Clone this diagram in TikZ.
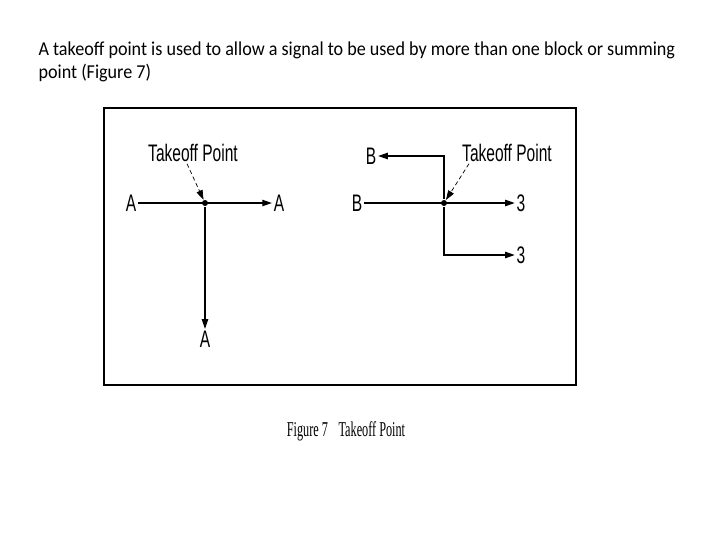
\documentclass[tikz,border=0pt]{standalone}
\usepackage{fontspec}
\setmainfont[FakeStretch=0.92]{Carlito}
\newfontfamily\labelfont[FakeStretch=0.65]{Liberation Sans}
\newfontfamily\capfont[FakeStretch=0.58]{Liberation Serif}
\usetikzlibrary{arrows.meta}

\begin{document}
\begin{tikzpicture}[x=0.025cm,y=-0.025cm,line width=0.8pt,>={Triangle[length=2.4mm,width=1.6mm]},
  lbl/.style={font=\labelfont\fontsize{17}{17}\selectfont,inner sep=1pt},
  tpoint/.style={circle,fill,inner sep=1.5pt}]
  \useasboundingbox (0,0) rectangle (720,540);
  % texto de arriba
  \node[anchor=north west,align=left,inner sep=0,font=\fontsize{14}{16.3}\selectfont] (intro) at (38,41)
    {A takeoff point is used to allow a signal to be used by more than one block or summing\\point (Figure 7)};
  % marco
  \draw (104,385) -- (104,108) -- (576,108) -- (576,385);
  \draw[line width=1.6pt] (103,385) -- (577,385);
  % primer punto de bifurcacion
  \node[tpoint] (tpa) at (205,203) {};
  \node[lbl] (ain) at (131,203) {A};
  \node[lbl] (aright) at (279,203) {A};
  \node[lbl] (adown) at (205,339) {A};
  \node[lbl] (tla) at (193,153) {Takeoff Point};
  \draw[->] (ain) -- (aright);
  \draw[->] (tpa) -- (adown);
  \draw[->,densely dashed,line width=0.5pt] ([xshift=-0.15cm]tla.south) -- (tpa);
  % segundo punto de bifurcacion
  \node[tpoint] (tpb) at (444,203) {};
  \node[lbl] (bin) at (357,203) {B};
  \node[lbl] (bright) at (521,203) {3};
  \node[lbl] (bup) at (371,156) {B};
  \node[lbl] (bdown) at (521,255) {3};
  \node[lbl] (tlb) at (507,153) {Takeoff Point};
  \draw[->] (bin) -- (bright);
  \draw[->] (tpb) |- (bup);
  \draw[->] (tpb) |- (bdown);
  \draw[->,densely dashed,line width=0.5pt] ([xshift=-0.95cm]tlb.south) -- (tpb);
  % pie de figura
  \node[font=\capfont\fontsize{15}{15}\selectfont] (cap) at (346,431) {Figure 7\enspace Takeoff Point};
\end{tikzpicture}
\end{document}
